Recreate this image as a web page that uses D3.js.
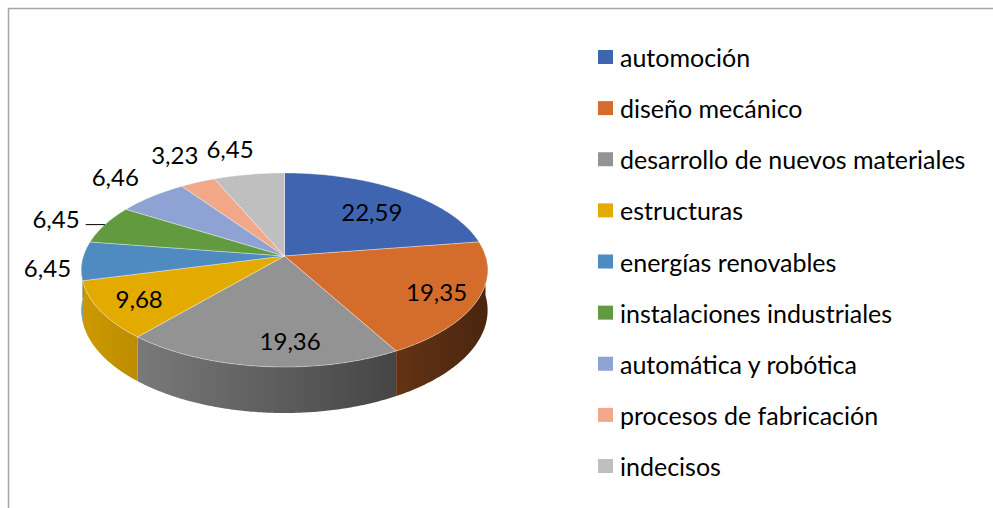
<!DOCTYPE html>
<html>
<head>
<meta charset="utf-8">
<script src="https://cdn.jsdelivr.net/npm/d3@7"></script>
<style>
    body { margin: 0; background: #fff; }
    text { font-family: Lato, "Open Sans", sans-serif; fill: #000; }
</style>
</head>
<body>
<div id="chart"></div>
<script>
// chart data
const categories = ["automoción", "diseño mecánico", "desarrollo de nuevos materiales", "estructuras",
    "energías renovables", "instalaciones industriales", "automática y robótica",
    "procesos de fabricación", "indecisos"];
const values = [22.59, 19.35, 19.36, 9.68, 6.45, 6.45, 6.46, 3.23, 6.45];
const colors = ["#3f65b1", "#d46c2b", "#939393", "#e3aa00", "#4f8ac0", "#629a3f", "#8ea3d4", "#f0a889", "#bfbfbf"];

// label nudges (px) where excel moved its labels
const labelNudge = [[-9, 9], [0, 0], [24, -1], [0, 0], [6, 6], [-15, 0], [-13, -9], [-8, -15], [-13, -12]];

const W = 993, H = 508;
const svg = d3.select("#chart").append("svg")
    .attr("width", W)
    .attr("height", H);

// frame
svg.append("path")
    .attr("d", `M8.5,${H} V8.5 H${W}`)
    .attr("fill", "none")
    .attr("stroke", "#a6a6a6")
    .attr("stroke-width", 1.5);

// 3d pie geometry
const cx = 284.5, cy = 256, RX = 201, RY = 95, P = 0.144, T = 39.4;

function project(a, r) {
    const X = r * Math.sin(a), Z = -r * Math.cos(a);
    const k = 1 / (1 - P * Z);
    return [cx + RX * X * k, cy + RY * Z * k, T * k];
}

function arcPoints(a0, a1, r) {
    const n = Math.max(2, Math.ceil((a1 - a0) / 0.01));
    return d3.range(n + 1).map(i => project(a0 + (a1 - a0) * i / n, r));
}

const pie = d3.pie().sort(null).value(d => d)
    .startAngle(0).endAngle(2 * Math.PI);
const arcs = pie(values);
const line = d3.line();

const defs = svg.append("defs");
const shade = d3.scaleLinear().domain([cx - RX, cx + RX]).range([0.9, 0.35]);

function scaled(c, m) {
    const r = d3.rgb(c);
    return d3.rgb(r.r * m, r.g * m, r.b * m).formatHex();
}

colors.forEach((c, i) => {
    const g = defs.append("linearGradient")
        .attr("id", "side" + i)
        .attr("gradientUnits", "userSpaceOnUse")
        .attr("x1", cx - RX).attr("x2", cx + RX)
        .attr("y1", 0).attr("y2", 0);
    g.append("stop").attr("offset", 0).attr("stop-color", scaled(c, shade(cx - RX)));
    g.append("stop").attr("offset", 1).attr("stop-color", scaled(c, shade(cx + RX)));
});

// sides (front half only)
const sides = svg.append("g");
arcs.forEach((d, i) => {
    const a0 = Math.max(d.startAngle, Math.PI / 2);
    const a1 = Math.min(d.endAngle, 3 * Math.PI / 2);
    if (a1 <= a0) return;
    const top = arcPoints(a0, a1, 1);
    const bottom = top.map(p => [p[0], p[1] + p[2]]).reverse();
    sides.append("path")
        .attr("d", line(top.map(p => [p[0], p[1]]).concat(bottom)) + "Z")
        .attr("fill", `url(#side${i})`);
});

// top faces
svg.append("g").selectAll("path")
    .data(arcs)
    .join("path")
    .attr("d", d => line([[cx, cy]].concat(arcPoints(d.startAngle, d.endAngle, 1).map(p => [p[0], p[1]]))) + "Z")
    .attr("fill", (d, i) => colors[i])
    .attr("stroke", "rgba(255,255,255,0.45)")
    .attr("stroke-width", 0.8)
    .attr("stroke-linejoin", "round");

// data labels
const fmt = d3.formatLocale({decimal: ",", thousands: ".", grouping: [3], currency: ["", "€"]}).format(".2f");
const labelG = svg.append("g");
arcs.forEach((d, i) => {
    const mid = (d.startAngle + d.endAngle) / 2;
    const inside = d.value > 8;
    const p = project(mid, inside ? 0.8 : 1.2);
    const x = p[0] + labelNudge[i][0], y = p[1] + labelNudge[i][1];
    const t = labelG.append("text")
        .attr("x", x)
        .attr("y", y)
        .attr("text-anchor", "middle")
        .attr("dominant-baseline", "central")
        .style("font-size", "24px")
        .text(fmt(d.value));

    // leader line for the moved label
    if (i === 5) {
        const w = t.node().getComputedTextLength();
        const rim = project(mid, 1);
        labelG.append("line")
            .attr("x1", x + w / 2 + 6).attr("x2", rim[0])
            .attr("y1", rim[1]).attr("y2", rim[1])
            .attr("stroke", "#000")
            .attr("stroke-width", 1);
    }
});

// legend
const legendY = d3.scalePoint().domain(categories).range([57, 466]);
const legend = svg.append("g").selectAll("g")
    .data(categories)
    .join("g")
    .attr("transform", d => `translate(598, ${legendY(d)})`);

legend.append("rect")
    .attr("x", 0).attr("y", -7)
    .attr("width", 15).attr("height", 14)
    .attr("fill", (d, i) => colors[i]);

legend.append("text")
    .attr("x", 22)
    .attr("y", 0)
    .attr("dominant-baseline", "central")
    .style("font-size", "25px")
    .text(d => d);
</script>
</body>
</html>
